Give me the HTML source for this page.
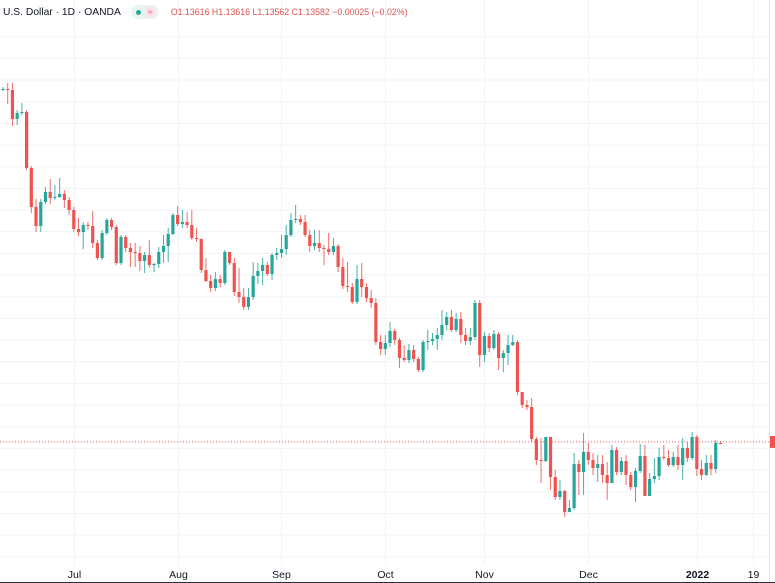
<!DOCTYPE html>
<html><head><meta charset="utf-8">
<style>
html,body{margin:0;padding:0;background:#fff;}
#wrap{position:relative;width:775px;height:583px;overflow:hidden;font-family:"Liberation Sans",sans-serif;}
#hdr{position:absolute;left:3px;top:4px;height:16px;display:flex;align-items:center;white-space:nowrap;}
.sym{font-size:10.3px;color:#131722;}
.pill{display:inline-flex;align-items:center;margin-left:10px;height:14px;border-radius:7px;background:#e8f5f1;padding:0 3px;}
.dot{width:5px;height:5px;border-radius:3px;background:#26a69a;margin:0 4px 0 2px;}
.apx{font-size:9px;color:#e0557a;background:#fbe4ec;border-radius:6px;padding:0 3px;line-height:12px;}
.ohlc{font-size:8.8px;color:#d9534f;margin-left:12px;}
</style></head>
<body>
<div id="wrap">
<svg id="svg" width="775" height="583" style="position:absolute;left:0;top:0"></svg>
<div id="hdr">
<span class="sym">U.S. Dollar · 1D · OANDA</span>
<span class="pill"><span class="dot"></span><span class="apx">≈</span></span>
<span class="ohlc">O1.13616 H1.13616 L1.13562 C1.13582 −0.00025 (−0.02%)</span>
</div>
</div>
<script>
// prices in pips (price = value / 10000)
const firstOpen = 12238;
const closes = [12240.5,12238,12165.5,12180.5,12183,12043,11945.5,11898,11958,11983,11968,11970.5,11978,11963,11938,11890.5,11883,11900.5,11898,11855.5,11818,11880.5,11913,11895.5,11805.5,11870.5,11843,11833,11830.5,11810.5,11825.5,11800.5,11803,11833,11848,11878,11925.5,11903,11908,11900.5,11868,11865.5,11788,11760.5,11743,11765.5,11755.5,11833,11805.5,11733,11720.5,11695.5,11720.5,11773,11785.5,11800.5,11778,11825.5,11830.5,11840.5,11875.5,11913,11915.5,11908,11875.5,11848,11855.5,11843,11840.5,11833,11848,11795.5,11748,11745.5,11708,11765.5,11745.5,11718,11705.5,11608,11590.5,11605.5,11635.5,11613,11568,11563,11588,11565.5,11538,11608,11610.5,11615.5,11625.5,11650.5,11670.5,11638,11665.5,11625.5,11610.5,11620.5,11705.5,11575.5,11623,11593,11628,11568,11580.5,11600.5,11608,11483,11450.5,11445.5,11365.5,11313,11310.5,11370.5,11270.5,11220.5,11235.5,11183,11193,11303,11283,11333,11313,11293,11303,11275.5,11255.5,11338,11283,11310.5,11275.5,11245.5,11285.5,11323,11223,11265.5,11273,11320.5,11318,11300.5,11320.5,11300.5,11343,11318,11370.5,11290.5,11275.5,11305.5,11290.5,11355.5,11353];
const highs = [12245.5,12255.5,12255.5,12188,12205.5,12188,12048,11965.5,11965.5,11995.5,12015.5,12000.5,12018,11988,11970.5,11945.5,11918,11908,11908,11935.5,11863,11888,11918,11918,11900.5,11875.5,11875.5,11855.5,11855.5,11848,11833,11863,11805.5,11845.5,11875.5,11893,11930.5,11948,11938,11933,11938,11893,11868,11818,11775.5,11783,11775.5,11838,11833,11818,11793,11743,11743,11808,11805.5,11818,11808,11830.5,11843,11875.5,11900.5,11930.5,11950.5,11925.5,11925.5,11888,11888,11888,11850.5,11880.5,11868,11853,11818,11808,11755.5,11800.5,11805.5,11755.5,11738,11718,11625.5,11625.5,11658,11640.5,11618,11600.5,11603,11600.5,11570.5,11613,11638,11630.5,11643,11688,11683,11688,11680.5,11683,11643,11643,11713,11713,11633,11630.5,11638,11633,11588,11625.5,11625.5,11613,11483,11463,11468,11370.5,11368,11370.5,11370.5,11288,11263,11238,11213,11330.5,11313,11380.5,11355.5,11330.5,11325.5,11325.5,11308,11350.5,11345.5,11320.5,11325.5,11283,11293,11353,11350.5,11280.5,11318,11343,11350.5,11338,11333,11350.5,11368,11358,11383,11375.5,11313,11325.5,11325.5,11363,11360.5];
const lows = [12235.5,12203,12148,12150.5,12175.5,12038,11930.5,11883,11883,11953,11953,11963,11968,11943,11925.5,11883,11873,11840.5,11888,11843,11813,11813,11875.5,11888,11800.5,11800.5,11833,11795.5,11795.5,11785.5,11780.5,11793,11783,11793,11805.5,11808,11875.5,11898,11893,11893,11863,11858,11780.5,11758,11733,11735.5,11745.5,11750.5,11800.5,11723,11705.5,11688,11688,11713,11753,11750.5,11773,11763,11813,11818,11825.5,11870.5,11905.5,11900.5,11870.5,11833,11838,11833,11800.5,11825.5,11825.5,11783,11740.5,11733,11703,11703,11720.5,11708,11693,11600.5,11575.5,11575.5,11595.5,11600.5,11543,11558,11555.5,11558,11533,11533,11588,11600.5,11588,11613,11638,11633,11633,11605.5,11600.5,11600.5,11613,11545.5,11558,11583,11588,11538,11533,11550.5,11598,11475.5,11443,11438,11358,11300.5,11255.5,11308,11238,11213,11213,11170.5,11183,11188,11225.5,11225.5,11300.5,11275.5,11258,11255.5,11213,11255.5,11275.5,11275.5,11250.5,11238,11208,11280.5,11223,11223,11255.5,11263,11313,11295.5,11295.5,11288,11263,11308,11313,11273,11263,11273,11275.5,11280.5,11353];
const tickLabels = ["Jul","Aug","Sep","Oct","Nov","Dec","2022","19"];
const tickBars = [15,37,59,81,102,124,147,159];
const lastPrice = 11358.2;

const NS="http://www.w3.org/2000/svg";
const svg=document.getElementById('svg');
const plotRight=769, x0=3, step=4.72;
function xOf(i){return x0+i*step;}
function yOf(p){return (12463-p)/2.5;}
function mk(tag,attrs){const e=document.createElementNS(NS,tag);for(const k in attrs)e.setAttribute(k,attrs[k]);svg.appendChild(e);return e;}

for(let k=-4;k<22;k++){
  const y=101.7+k*21.67;
  if(y<20||y>562)continue;
  const g=mk('line',{x1:0,x2:plotRight,y1:y,y2:y,stroke:'#f0f3fa','stroke-width':1});
  
  
}
tickBars.forEach((b,i)=>{
  const x=Math.round(xOf(b))+0.5;
  const g=mk('line',{x1:x,x2:x,y1:0,y2:565,stroke:'#f0f3fa','stroke-width':1});
  
  
  const t=mk('text',{x:x,y:578,'text-anchor':'middle','font-size':'10.5','font-family':'Liberation Sans, sans-serif',fill:'#131722','font-weight':tickLabels[i]==='2022'?'bold':'normal'});
  t.textContent=tickLabels[i];
  
  
});
const sep=mk('line',{x1:plotRight+0.5,x2:plotRight+0.5,y1:0,y2:583,stroke:'#e0e3eb','stroke-width':1});


const bot=mk('line',{x1:0,x2:775,y1:582.5,y2:582.5,stroke:'#2a2e39','stroke-width':1});



closes.forEach((c,i)=>{
  const o=i===0?firstOpen:closes[i-1];
  const up=c>=o;
  const col=up?'#26a69a':'#ef5350';
  const x=xOf(i);
  const hi=Math.max(highs[i],o,c), lo=Math.min(lows[i],o,c);
  const w=mk('line',{x1:x,x2:x,y1:yOf(hi),y2:yOf(lo),stroke:col,'stroke-width':1,opacity:0.85});
  
  
  const yt=yOf(Math.max(o,c)), yb=yOf(Math.min(o,c));
  const r=mk('rect',{x:x-1.6,y:yt,width:3.2,height:Math.max(1,yb-yt),fill:col});
  
  
});

const ly=yOf(lastPrice);
const pl=mk('line',{x1:0,x2:plotRight,y1:ly,y2:ly,stroke:'#ef5350','stroke-width':1,'stroke-dasharray':'1,2'});


const lb=mk('rect',{x:plotRight+1,y:ly-6,width:10,height:12,fill:'#ef5350'});


</script>
</body></html>
